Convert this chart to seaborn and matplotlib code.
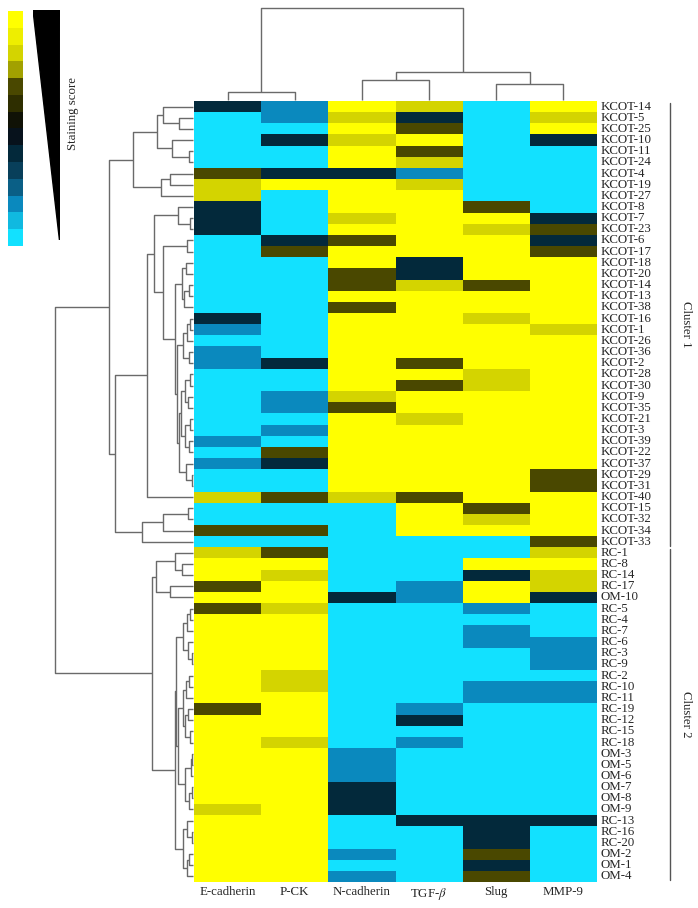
import numpy as np
import pandas as pd
import matplotlib
matplotlib.use('Agg')
import matplotlib.pyplot as plt
from matplotlib.colors import ListedColormap
from matplotlib.patches import Polygon
from matplotlib.transforms import blended_transform_factory
import seaborn as sns

# ---- data ----
row_labels = ['KCOT-14', 'KCOT-5', 'KCOT-25', 'KCOT-10', 'KCOT-11', 'KCOT-24', 'KCOT-4', 'KCOT-19',
              'KCOT-27', 'KCOT-8', 'KCOT-7', 'KCOT-23', 'KCOT-6', 'KCOT-17', 'KCOT-18', 'KCOT-20',
              'KCOT-14', 'KCOT-13', 'KCOT-38', 'KCOT-16', 'KCOT-1', 'KCOT-26', 'KCOT-36', 'KCOT-2',
              'KCOT-28', 'KCOT-30', 'KCOT-9', 'KCOT-35', 'KCOT-21', 'KCOT-3', 'KCOT-39', 'KCOT-22',
              'KCOT-37', 'KCOT-29', 'KCOT-31', 'KCOT-40', 'KCOT-15', 'KCOT-32', 'KCOT-34', 'KCOT-33',
              'RC-1', 'RC-8', 'RC-14', 'RC-17', 'OM-10', 'RC-5', 'RC-4', 'RC-7', 'RC-6', 'RC-3',
              'RC-9', 'RC-2', 'RC-10', 'RC-11', 'RC-19', 'RC-12', 'RC-15', 'RC-18', 'OM-3', 'OM-5',
              'OM-6', 'OM-7', 'OM-8', 'OM-9', 'RC-13', 'RC-16', 'RC-20', 'OM-2', 'OM-1', 'OM-4']
markers = ['E-cadherin', 'P-CK', 'N-cadherin', 'TGF-$\\beta$', 'Slug', 'MMP-9']

# staining scores (0 = lowest, 13 = highest)
ecad = [5, 0, 0, 0, 0, 0, 9, 11, 11, 5, 5, 5, 0, 0, 0, 0, 0, 0, 0, 5,
        2, 0, 2, 2, 0, 0, 0, 0, 0, 0, 2, 0, 2, 0, 0, 11, 0, 0, 9, 0,
        11, 13, 13, 9, 13, 9, 13, 13, 13, 13, 13, 13, 13, 13, 9, 13, 13, 13, 13, 13,
        13, 13, 13, 11, 13, 13, 13, 13, 13, 13]
pck = [2, 2, 0, 5, 0, 0, 5, 13, 0, 0, 0, 0, 5, 9, 0, 0, 0, 0, 0, 0,
       0, 0, 0, 5, 0, 0, 2, 2, 0, 2, 0, 9, 5, 0, 0, 9, 0, 0, 9, 0,
       9, 13, 11, 13, 13, 11, 13, 13, 13, 13, 13, 11, 11, 13, 13, 13, 13, 11, 13, 13,
       13, 13, 13, 13, 13, 13, 13, 13, 13, 13]
ncad = [13, 11, 13, 11, 13, 13, 5, 13, 13, 13, 11, 13, 9, 13, 13, 9, 9, 13, 9, 13,
        13, 13, 13, 13, 13, 13, 11, 9, 13, 13, 13, 13, 13, 13, 13, 11, 0, 0, 0, 0,
        0, 0, 0, 0, 5, 0, 0, 0, 0, 0, 0, 0, 0, 0, 0, 0, 0, 0, 2, 2,
        2, 5, 5, 5, 0, 0, 0, 2, 0, 2]
tgf = [11, 5, 9, 13, 9, 11, 2, 11, 13, 13, 13, 13, 13, 13, 5, 5, 11, 13, 13, 13,
       13, 13, 13, 9, 13, 9, 13, 13, 11, 13, 13, 13, 13, 13, 13, 9, 13, 13, 13, 0,
       0, 0, 0, 2, 2, 0, 0, 0, 0, 0, 0, 0, 0, 0, 2, 5, 0, 2, 0, 0,
       0, 0, 0, 0, 5, 0, 0, 0, 0, 0]
slug = [0, 0, 0, 0, 0, 0, 0, 0, 0, 9, 13, 11, 13, 13, 13, 13, 9, 13, 13, 11,
        13, 13, 13, 13, 11, 11, 13, 13, 13, 13, 13, 13, 13, 13, 13, 13, 9, 11, 13, 0,
        0, 13, 5, 13, 13, 2, 0, 2, 2, 0, 0, 0, 2, 2, 0, 0, 0, 0, 0, 0,
        0, 0, 0, 0, 5, 5, 5, 9, 5, 9]
mmp = [13, 11, 13, 5, 0, 0, 0, 0, 0, 0, 5, 9, 5, 9, 13, 13, 13, 13, 13, 13,
       11, 13, 13, 13, 13, 13, 13, 13, 13, 13, 13, 13, 13, 9, 9, 13, 13, 13, 13, 9,
       11, 13, 11, 11, 5, 0, 0, 0, 2, 2, 2, 0, 2, 2, 0, 0, 0, 0, 0, 0,
       0, 0, 0, 0, 5, 0, 0, 0, 0, 0]

cluster_sizes = [40, 30]
cluster_names = ['Cluster 1', 'Cluster 2']

# linkage trees: (distance, left, right), leaves are row / column indices
top_group = (0.437,
             (0.263, (0.215, 0, (0.10, 1, 2)), (0.154, 3, (0.027, 4, 5))),
             (0.234, (0.167, 6, 7), 8))
g_a = (0.082, (0.05, 14, 15), (0.065, (0.03, 16, 17), 18))
g_c4 = (0.075, (0.04, (0.025, 19, 20), 21), (0.03, 22, 23))
g_c11 = (0.085, (0.06, (0.02, 24, 25), (0.035, 26, 27)), (0.055, (0.02, 28, 29), (0.03, 30, 31)))
g_c14 = (0.10, g_c11, (0.05, 32, (0.008, 33, 34)))
g_mid = (0.13, g_a, (0.115, g_c4, g_c14))
n_c = (0.28, (0.11, 9, (0.022, 10, 11)), (0.215, (0.046, 12, 13), g_mid))
n_f = (0.563, (0.335, n_c, 35), (0.367, (0.215, (0.038, 36, 37), 38), 39))
cluster1 = (0.609, top_group, n_f)

c2_top = (0.268, (0.13, 40, (0.082, 41, 42)), (0.167, 43, 44))
c2_q = (0.07, (0.045, (0.02, 45, 46), 47), (0.035, 48, (0.01, 49, 50)))
c2_r1 = (0.11, (0.075, (0.05, (0.03, 51, 52), 53), (0.055, (0.035, 54, 55), (0.02, 56, 57))),
         (0.06, (0.015, (0.008, 58, 59), 60), (0.03, (0.008, 61, 62), 63)))
c2_r2 = (0.07, (0.04, 64, (0.008, 65, 66)), (0.045, (0.03, 67, 68), 69))
cluster2 = (0.295, c2_top, (0.13, (0.123, c2_q, c2_r1), c2_r2))
row_tree = (1.0, cluster1, cluster2)

col_tree = (1.0, (0.084, 0, 1), (0.305, (0.215, 2, 3), (0.171, 4, 5)))

level_colors = ['#12E1FF', '#10B9E0', '#0A89BE', '#0A5F86', '#083F5A', '#03293B', '#07121C',
                '#101206', '#2E2E00', '#4A4800', '#A2A100', '#D4D400', '#EEEE00', '#FFFF00']

df = pd.DataFrame({'E-cadherin': ecad, 'P-CK': pck, 'N-cadherin': ncad,
                   'TGF': tgf, 'Slug': slug, 'MMP-9': mmp})


def tree_segments(node, segs):
    if isinstance(node, int):
        return node + 0.5, 0.0
    d, left, right = node
    pl, hl = tree_segments(left, segs)
    pr, hr = tree_segments(right, segs)
    segs.append(([hl, d, d, hr], [pl, pl, pr, pr]))
    return (pl + pr) / 2, d


# ---- figure ----
sns.set_style('white')
plt.rcParams['font.family'] = ['Liberation Serif', 'DejaVu Serif']
plt.rcParams['mathtext.fontset'] = 'stix'

W, H = 698, 908
fig = plt.figure(figsize=(W / 100, H / 100), dpi=100)


def px_axes(x0, y0, x1, y1):
    return fig.add_axes([x0 / W, 1 - y1 / H, (x1 - x0) / W, (y1 - y0) / H])


cmap = ListedColormap(level_colors)
n_rows = len(row_labels)

# heatmap
ax = px_axes(194, 101, 597, 882)
sns.heatmap(df, cmap=cmap, vmin=-0.5, vmax=13.5, cbar=False, ax=ax,
            xticklabels=markers, yticklabels=row_labels)
ax.yaxis.tick_right()
ax.tick_params(axis='y', length=0, pad=2.5, labelsize=9.3, rotation=0)
ax.tick_params(axis='x', length=0, pad=3, labelsize=9.3, rotation=0)
for t in ax.get_yticklabels():
    t.set_va('center')

# row dendrogram
axr = px_axes(55, 101, 194, 882)
segs = []
tree_segments(row_tree, segs)
for xs, ys in segs:
    axr.plot(xs, ys, color='#6a6a6a', lw=1.0, clip_on=False, solid_capstyle='butt')
axr.set_xlim(1.0, -1 / 138)
axr.set_ylim(n_rows, 0)
axr.axis('off')

# column dendrogram
axc = px_axes(194, 8, 597, 101)
segs = []
tree_segments(col_tree, segs)
for xs, ys in segs:
    axc.plot(ys, xs, color='#6a6a6a', lw=1.0, clip_on=False, solid_capstyle='butt')
axc.set_xlim(0, len(markers))
axc.set_ylim(-1 / 92, 1.0)
axc.axis('off')

# colour key
axk = px_axes(8, 11, 23, 246)
sns.heatmap(np.arange(len(level_colors))[::-1].reshape(-1, 1), cmap=cmap, vmin=-0.5, vmax=13.5,
            cbar=False, xticklabels=False, yticklabels=False, ax=axk)

# triangle for score direction
axt = px_axes(33, 10, 60, 240)
axt.add_patch(Polygon([(0, 1), (1, 1), (0.98, 0)], closed=True, color='black'))
axt.set_xlim(0, 1)
axt.set_ylim(0, 1)
axt.axis('off')
fig.text(73 / W, 1 - 113 / H, 'Staining score', rotation=90, ha='center', va='center', fontsize=9.3)

# cluster brackets
tr = blended_transform_factory(ax.transAxes, ax.transData)
start = 0
for size, name in zip(cluster_sizes, cluster_names):
    ax.plot([1.18, 1.18], [start + 0.15, start + size - 0.15], color='#555555', lw=1.0,
            transform=tr, clip_on=False)
    ax.text(1.22, start + size / 2, name, rotation=270, ha='center', va='center',
            fontsize=9.3, transform=tr)
    start += size

fig.savefig('out.png', dpi=100)
